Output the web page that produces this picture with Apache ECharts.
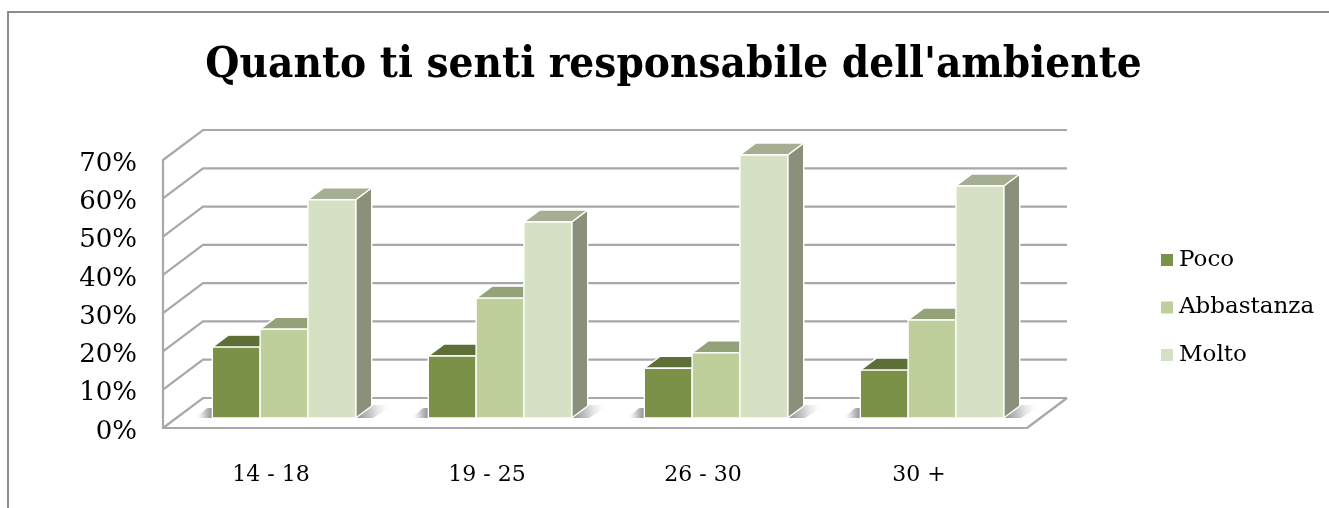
<!DOCTYPE html>
<html><head><meta charset="utf-8">
<style>html,body{margin:0;padding:0;background:#fff}#c{width:1329px;height:508px}</style>
<script src="https://cdn.jsdelivr.net/npm/echarts@6/dist/echarts.min.js"></script>
</head><body><div id="c"></div>
<script>
const categories = ['14 - 18','19 - 25','26 - 30','30 +'];
const poco = [18.5,16.2,13,12.5];
const abbastanza = [23.2,31.3,17,25.6];
const molto = [57,51.2,68.7,60.6];
const yTicks = [0,10,20,30,40,50,60,70];
const titleText = "Quanto ti senti responsabile dell'ambiente";

const TITLE_FONT = '"DejaVu Serif Condensed", "DejaVu Serif", serif';
const FONT = '"DejaVu Serif", serif';
const WALL = [40,-30], BASE = [13,-10], DEPTH = [16,-12];
const wallColor = '#a8a8a8';
const barShare = 0.2213;
const chart = echarts.init(document.getElementById('c'));

function wallItem(params, api){
  const v = api.value(0);
  const p = api.coord([0, v]);
  const cs = params.coordSys;
  const style = {stroke: wallColor, lineWidth: 2.2, fill: null};
  const x0 = cs.x, x1 = cs.x + cs.width;
  const children = [
    {type:'polyline', shape:{points:[[x0,p[1]],[x0+WALL[0],p[1]+WALL[1]],[x1+WALL[0],p[1]+WALL[1]]]}, style}
  ];
  if (v === 0) {
    children.push({type:'line', shape:{x1:x1,y1:p[1],x2:x1+WALL[0],y2:p[1]+WALL[1]}, style});
  }
  return {type:'group', children};
}
function shadowItem(params, api){
  const p = api.coord([api.value(0), 0]);
  const bw = api.size([1,0])[0]*barShare;
  const cx = p[0]+BASE[0], by = p[1]+BASE[1];
  const R = cx+1.5*bw, L = cx-1.5*bw;
  const stops = [{offset:0,color:'#8f8f8f'},{offset:0.4,color:'#c8c8c8'},{offset:1,color:'rgba(255,255,255,0)'}];
  return {type:'group', children:[
    {type:'polygon', shape:{points:[[R,by],[R+17,by-13],[R+38,by-13],[R+17,by]]},
     style:{fill:new echarts.graphic.LinearGradient(0,1,1,0.3,stops)}},
    {type:'polygon', shape:{points:[[L-18,by],[L-5,by-10],[L,by-10],[L,by]]},
     style:{fill:new echarts.graphic.LinearGradient(1,0.7,0,0.7,stops)}}
  ]};
}
function barRenderer(idx, front, top, side){
  return function(params, api){
    const c = api.value(0), v = api.value(1);
    const p0 = api.coord([c,0]), p1 = api.coord([c,v]);
    const bw = api.size([1,0])[0]*barShare;
    const x = p0[0]+BASE[0]+(idx-1.5)*bw;
    const yb = p0[1]+BASE[1], yt = p1[1]+BASE[1];
    const edge = {stroke:'#fff', lineWidth:1.4, lineJoin:'round'};
    return {type:'group', children:[
      {type:'polygon', shape:{points:[[x+bw,yt],[x+bw+DEPTH[0],yt+DEPTH[1]],[x+bw+DEPTH[0],yb+DEPTH[1]],[x+bw,yb]]}, style:Object.assign({fill:side},edge)},
      {type:'polygon', shape:{points:[[x,yt],[x+DEPTH[0],yt+DEPTH[1]],[x+bw+DEPTH[0],yt+DEPTH[1]],[x+bw,yt]]}, style:Object.assign({fill:top},edge)},
      {type:'rect', shape:{x:x,y:yt,width:bw,height:yb-yt}, style:Object.assign({fill:front},edge)}
    ]};
  };
}
function barSeries(name, values, idx, front, top, side){
  return {type:'custom', name, coordinateSystem:'cartesian2d', encode:{x:0,y:1},
    itemStyle:{color:front}, silent:true, z:3,
    data: values.map((v,i)=>[i,v]), renderItem: barRenderer(idx,front,top,side)};
}
chart.setOption({
  animation:false,
  backgroundColor:'#fff',
  title:{text:titleText, left:668.5, top:39, textAlign:'center',
    textStyle:{fontFamily:TITLE_FONT,fontWeight:'bold',fontSize:43.6,color:'#000'}},
  grid:{left:163, top:160, width:864, height:268},
  xAxis:{type:'category', data:categories, 
    axisLine:{show:true,onZero:false,lineStyle:{color:wallColor,width:2.2}}, axisTick:{show:false},
    axisLabel:{margin:36,fontFamily:FONT,fontSize:22,color:'#000'}},
  yAxis:{type:'value', min:0, max:70, interval:10,
    axisLine:{show:true,lineStyle:{color:wallColor,width:2.2}}, axisTick:{show:false}, splitLine:{show:false},
    axisLabel:{margin:26,color:'#000',formatter:v=>'{v|'+v+'%}',
      rich:{v:{fontFamily:FONT,fontSize:26,color:'#000',padding:[8,0,0,0]}}}},
  legend:{orient:'vertical', left:1156, top:243.5, padding:5, itemWidth:12, itemHeight:12, itemGap:24.5, icon:'rect',
    data:['Poco','Abbastanza','Molto'],
    textStyle:{fontFamily:FONT,fontSize:23,color:'#000',padding:[0,0,0,1]}},
  graphic:[{type:'polyline', silent:true, shape:{points:[[8,508],[8,12],[1329,12]]}, style:{stroke:'#8c8c8c',lineWidth:2,fill:null}}],
  series:[
    {type:'custom', name:'walls', coordinateSystem:'cartesian2d', encode:{y:0}, silent:true, z:1, data:yTicks.map(v=>[v]), renderItem:wallItem},
    {type:'custom', name:'shadows', coordinateSystem:'cartesian2d', encode:{x:0}, silent:true, z:2, data:categories.map((c,i)=>[i]), renderItem:shadowItem},
    barSeries('Poco',poco,0,'#7a9147','#5d6f36','#55652f'),
    barSeries('Abbastanza',abbastanza,1,'#bfcf9b','#94a27a','#808c68'),
    barSeries('Molto',molto,2,'#d5e1c2','#a5ae93','#8a917b')
  ]
});
</script></body></html>
